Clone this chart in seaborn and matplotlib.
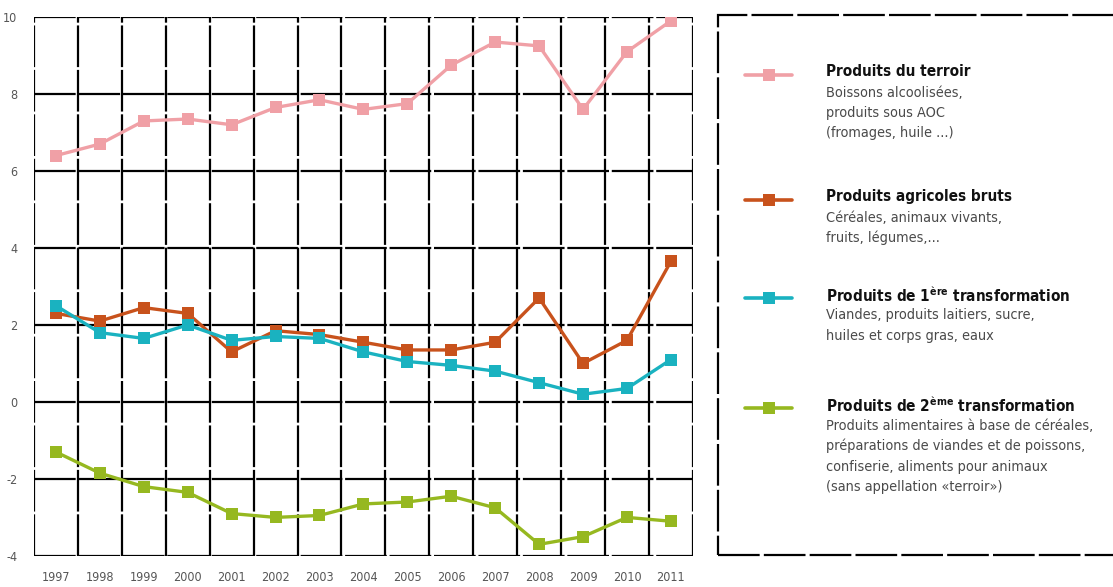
import matplotlib
matplotlib.use("Agg")
import matplotlib.pyplot as plt
import numpy as np
import pandas as pd
import seaborn as sns

years = list(range(1997, 2012))
terroir = [6.4, 6.7, 7.3, 7.35, 7.2, 7.65, 7.85, 7.6, 7.75, 8.75, 9.35, 9.25, 7.6, 9.1, 9.9]
agricoles = [2.3, 2.1, 2.45, 2.3, 1.3, 1.85, 1.75, 1.55, 1.35, 1.35, 1.55, 2.7, 1.0, 1.6, 3.65]
transfo1 = [2.5, 1.8, 1.65, 2.0, 1.6, 1.7, 1.65, 1.3, 1.05, 0.95, 0.8, 0.5, 0.2, 0.35, 1.1]
transfo2 = [-1.3, -1.85, -2.2, -2.35, -2.9, -3.0, -2.95, -2.65, -2.6, -2.45, -2.75, -3.7, -3.5, -3.0, -3.1]

series = ["terroir", "agricoles", "transfo1", "transfo2"]
PALETTE = {"terroir": "#f0a0a6", "agricoles": "#c8521c",
           "transfo1": "#1ab2c0", "transfo2": "#96b820"}
titles = ["Produits du terroir", "Produits agricoles bruts",
          r"Produits de 1$^{\mathbf{ère}}$ transformation",
          r"Produits de 2$^{\mathbf{ème}}$ transformation"]
details = [["Boissons alcoolisées,", "produits sous AOC", "(fromages, huile ...)"],
           ["Céréales, animaux vivants,", "fruits, légumes,..."],
           ["Viandes, produits laitiers, sucre,", "huiles et corps gras, eaux"],
           ["Produits alimentaires à base de céréales,",
            "préparations de viandes et de poissons,",
            "confiserie, aliments pour animaux",
            "(sans appellation «terroir»)"]]

df = pd.DataFrame({"year": years * 4,
                   "value": terroir + agricoles + transfo1 + transfo2,
                   "serie": sum([[s] * len(years) for s in series], [])})

sns.set_style("white")
plt.rcParams["font.family"] = ["DejaVu Sans"]
plt.rcParams["font.stretch"] = "condensed"
plt.rcParams["axes.unicode_minus"] = False
plt.rcParams["lines.scale_dashes"] = False
plt.rcParams["mathtext.fontset"] = "custom"
plt.rcParams["mathtext.bf"] = "DejaVu Sans:bold"

fig = plt.figure(figsize=(11.13, 5.87), dpi=100)
ax = fig.add_axes([0.0305, 0.053, 0.592, 0.918])

# grille pointillée noire
dash = (0, (30, 2))
for y in range(-4, 11, 2):
    ax.axhline(y, color="black", lw=1.6, ls=dash, zorder=1)
for x in np.arange(1996.5, 2012, 1):
    ax.axvline(x, color="black", lw=1.6, ls=dash, zorder=1)

sns.lineplot(data=df, x="year", y="value", hue="serie", hue_order=series,
             palette=PALETTE, marker="s", markersize=8, markeredgewidth=0,
             linewidth=2.4, legend=False, ax=ax, zorder=3)

ax.set_xlim(1996.5, 2011.5)
ax.set_ylim(-4, 10)
ax.set_xticks(years)
ax.set_yticks(range(-4, 11, 2))
ax.tick_params(axis="x", length=0, labelsize=9, colors="#555555", pad=11)
ax.tick_params(axis="y", length=0, labelsize=9, colors="#555555", pad=12)
ax.set_xlabel("")
ax.set_ylabel("")
for s in ax.spines.values():
    s.set_visible(False)

# légende encadrée à droite
frame = plt.Rectangle((718 / 1113, 1 - 555 / 587), 420 / 1113, 540 / 587,
                      transform=fig.transFigure, fill=False, ec="black",
                      lw=1.6, ls=(0, (30, 3)), clip_on=False)
fig.add_artist(frame)

sym_y = [75, 200, 298, 408]
title_y = [72, 197, 295, 405]
for s, t, det, sy, ty in zip(series, titles, details, sym_y, title_y):
    fy = 1 - sy / 587
    fig.add_artist(plt.Line2D([745 / 1113, 792 / 1113], [fy, fy], color=PALETTE[s],
                              lw=2.6, transform=fig.transFigure))
    fig.add_artist(plt.Line2D([768.5 / 1113], [fy], color=PALETTE[s], marker="s",
                              markersize=8, markeredgewidth=0, ls="none",
                              transform=fig.transFigure))
    fig.text(826 / 1113, 1 - ty / 587, t, fontsize=11, fontweight="bold",
             color="#111111", va="center", ha="left")
    for i, line in enumerate(det):
        fig.text(826 / 1113, 1 - (ty + 20.5 * (i + 1)) / 587, line, fontsize=10.4,
                 color="#4a4a4a", va="center", ha="left")

fig.savefig("out.png", dpi=100)
